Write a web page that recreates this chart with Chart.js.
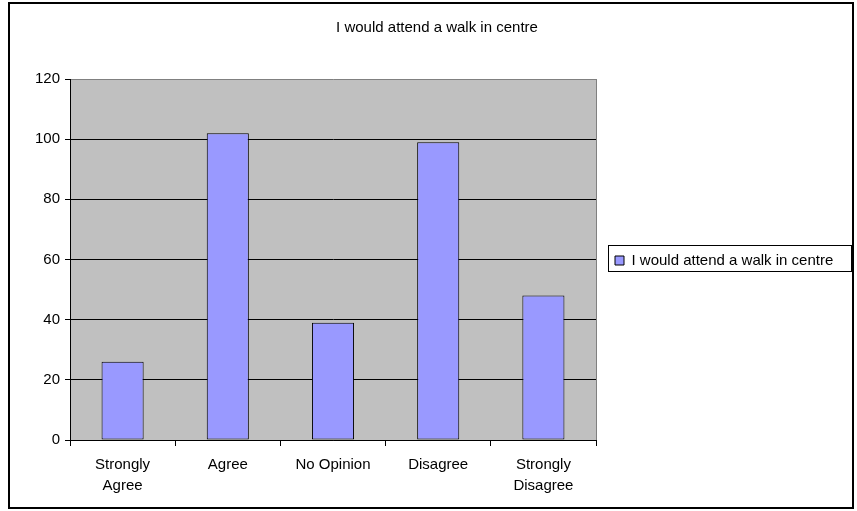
<!DOCTYPE html>
<html>
<head>
<meta charset="utf-8">
<title>I would attend a walk in centre</title>
<script src="https://cdn.jsdelivr.net/npm/chart.js@4/dist/chart.umd.min.js"></script>
<style>
  html, body { margin: 0; padding: 0; background: #fff; }
  canvas { display: block; }
</style>
</head>
<body>
<canvas id="walkInChart" width="857" height="511"></canvas>
<script>
// Survey answers
const categories = [["Strongly", "Agree"], "Agree", "No Opinion", "Disagree", ["Strongly", "Disagree"]];
const responses = [26, 102, 39, 99, 48];
const seriesName = "I would attend a walk in centre";

// Value axis
const yMin = 0;
const yMax = 120;
const yStep = 20;

const FONT = '"Liberation Sans", Arial, sans-serif';
const barColor = "#9999FF";
const plotColor = "#C0C0C0";

// Side boxes get at most a quarter of the free width, so pick the
// right padding that leaves the plot ending at x = 596.
const padLeft = 10;
const plotRight = 596;
const padRight = (857 - plotRight - (857 - padLeft) / 4) / 0.75;

// white page, grey plot area, outer frame and legend frame
const chartFrame = {
    id: "chartFrame",
    afterLayout(chart) {
        // centre the title a little right of the canvas middle
        chart.titleBlock.left = 17;
        chart.titleBlock.right = 857;
        // let the legend use the whole strip right of the plot,
        // dropped down level with the plot middle
        const lg = chart.legend;
        lg.right = 857;
        lg.width = lg.right - lg.left;
        lg.top += 10;
        lg.bottom += 10;
    },
    beforeDraw(chart) {
        const ctx = chart.ctx;
        const a = chart.chartArea;
        ctx.save();
        ctx.fillStyle = "#fff";
        ctx.fillRect(0, 0, chart.width, chart.height);
        ctx.fillStyle = plotColor;
        ctx.fillRect(a.left, a.top, a.right - a.left, a.bottom - a.top);
        ctx.restore();
    },
    afterDraw(chart) {
        const ctx = chart.ctx;
        const a = chart.chartArea;
        ctx.save();
        // right edge of the plot area
        ctx.strokeStyle = "#808080";
        ctx.lineWidth = 1;
        ctx.beginPath();
        ctx.moveTo(Math.round(a.right) + 0.5, a.top);
        ctx.lineTo(Math.round(a.right) + 0.5, a.bottom);
        ctx.stroke();

        // box round the legend entry
        const hb = chart.legend.legendHitBoxes[0];
        if (hb) {
            const x0 = Math.round(hb.left - 7) + 0.5;
            const x1 = Math.round(hb.left + hb.width + 18) + 0.5;
            const cy = Math.round(hb.top + hb.height / 2 - 3);
            ctx.strokeStyle = "#000";
            ctx.strokeRect(x0, cy - 13 + 0.5, x1 - x0, 26);
        }

        // outer chart border
        ctx.lineWidth = 2;
        ctx.strokeStyle = "#000";
        ctx.strokeRect(9, 3, 844, 505);
        ctx.restore();
    }
};

new Chart(document.getElementById("walkInChart"), {
    type: "bar",
    data: {
        labels: categories,
        datasets: [{
            label: seriesName,
            data: responses,
            backgroundColor: barColor,
            borderColor: "#000",
            borderWidth: 1,
            borderSkipped: false,
            categoryPercentage: 1,
            barPercentage: 0.4
        }]
    },
    options: {
        responsive: false,
        animation: false,
        devicePixelRatio: 1,
        layout: {
            padding: { left: padLeft, right: padRight, top: 0, bottom: 10 }
        },
        plugins: {
            title: {
                display: true,
                text: seriesName,
                color: "#000",
                font: { family: FONT, size: 15, weight: "normal", lineHeight: 1.2 },
                padding: { top: 19, bottom: 42 }
            },
            legend: {
                position: "right",
                labels: {
                    color: "#000",
                    font: { family: FONT, size: 15 },
                    boxWidth: 9,
                    boxHeight: 9,
                    padding: 19
                }
            },
            tooltip: { enabled: false }
        },
        scales: {
            x: {
                grid: {
                    display: true,
                    drawOnChartArea: false,
                    drawTicks: true,
                    tickLength: 6,
                    tickColor: "#000"
                },
                border: { color: "#000", width: 1 },
                ticks: {
                    color: "#000",
                    padding: 8,
                    maxRotation: 0,
                    autoSkip: false,
                    font: { family: FONT, size: 15, lineHeight: 1.4 }
                },
                afterFit(scale) { scale.height = 61; }
            },
            y: {
                min: yMin,
                max: yMax,
                grid: {
                    color: (c) => (c.tick && c.tick.value === yMax ? "#808080" : "#000"),
                    tickColor: "#000",
                    tickLength: 5,
                    lineWidth: 1
                },
                border: { color: "#000", width: 1 },
                ticks: {
                    stepSize: yStep,
                    color: "#000",
                    padding: 5,
                    font: { family: FONT, size: 15 }
                },
                afterFit(scale) { scale.width = 70 - padLeft; }
            }
        }
    },
    plugins: [chartFrame]
});
</script>
</body>
</html>
